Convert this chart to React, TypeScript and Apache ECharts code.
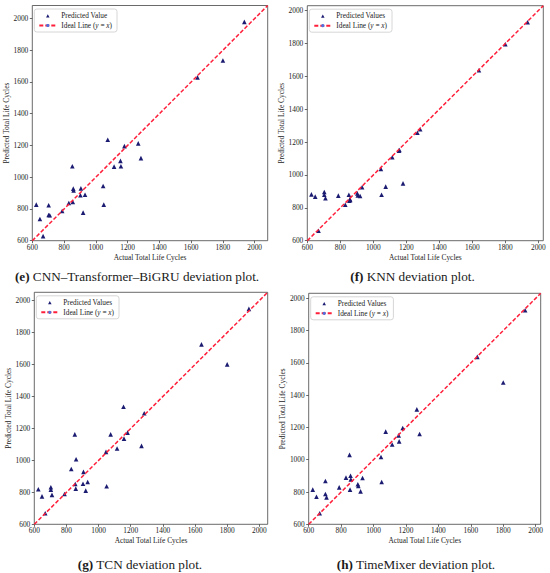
import React, { useEffect, useRef } from "react";
import * as echarts from "echarts";

const actualCycles = [625, 648, 668, 703, 703, 710, 788, 830, 852, 855, 858, 860, 903, 906, 920, 932, 1046, 1050, 1075, 1115, 1155, 1158, 1180, 1267, 1284, 1640, 1800, 1935];
const predCnnTransformerBiGru = [827, 737, 629, 823, 762, 760, 787, 838, 1069, 844, 928, 916, 886, 930, 777, 890, 945, 827, 1236, 1067, 1103, 1069, 1196, 1213, 1120, 1629, 1735, 1979];
const predKnn = [882, 868, 661, 896, 880, 858, 874, 819, 880, 844, 852, 848, 888, 876, 872, 925, 1036, 880, 929, 1108, 1148, 1152, 949, 1257, 1278, 1637, 1795, 1929];
const predTcn = [819, 775, 669, 832, 817, 784, 790, 946, 1163, 852, 823, 1007, 854, 928, 811, 865, 1053, 838, 1163, 1074, 1336, 1136, 1174, 1091, 1295, 1726, 1601, 1948];
const predTimeMixer = [815, 771, 668, 868, 788, 767, 829, 889, 1030, 815, 901, 878, 848, 838, 804, 887, 1017, 862, 1174, 1094, 1151, 1114, 1197, 1312, 1159, 1637, 1478, 1926];
const tickValues = [600, 800, 1000, 1200, 1400, 1600, 1800, 2000];
const axisMin = 600;
const axisMaxes = [2082, 2030, 2052, 2031];
const scatterNames = ["Predicted Value", "Predicted Values", "Predicted Values", "Predicted Values"];
const idealName = "Ideal Line (y = x)";
const captionLetters = ["e", "f", "g", "h"];
const captionTexts = ["CNN–Transformer–BiGRU deviation plot.", "KNN deviation plot.", "TCN deviation plot.", "TimeMixer deviation plot."];
const predictions = [predCnnTransformerBiGru, predKnn, predTcn, predTimeMixer];

const layout = [
  { left: 32.3, top: 5.5, width: 235.4, height: 235.2, yGap: 22, capX: 137, capY: 276 },
  { left: 307.3, top: 5.7, width: 236, height: 235, yGap: 21.8, capX: 412.5, capY: 276 },
  { left: 34.3, top: 292.3, width: 233.4, height: 232, yGap: 19.5, capX: 140, capY: 564 },
  { left: 308.7, top: 293.3, width: 232, height: 231, yGap: 21, capX: 416, capY: 564 },
];

const SERIF = "Liberation Serif";
const TXT = "#222";
const FRAME = "#444";
// legend marker: bounding box 34x8 (same aspect as the 17x4 legend item), small triangle in the middle
const TRIANGLE_ICON = "path://M0 0M34 8M13.5 8L17 1.5L20.5 8Z";

export default function App() {
  const ref = useRef<HTMLDivElement>(null);
  useEffect(() => {
    document.body.style.margin = "0";
    const chart = echarts.init(ref.current!, null, { renderer: "svg" });
    const grids: any[] = [];
    const xAxes: any[] = [];
    const yAxes: any[] = [];
    const series: any[] = [];
    const legends: any[] = [];
    const titles: any[] = [];
    const labelFmt = (v: number) => String(v);
    layout.forEach((L, i) => {
      const max = axisMaxes[i];
      grids.push({
        left: L.left, top: L.top, width: L.width, height: L.height,
        show: true, borderColor: FRAME, borderWidth: 0.8, backgroundColor: "#fff",
      });
      const common = {
        type: "value", gridIndex: i, min: axisMin, max, interval: 200,
        splitLine: { show: false },
        axisLine: { show: false, onZero: false },
        axisTick: { show: true, length: 2.5, customValues: tickValues, lineStyle: { color: FRAME, width: 0.8 } },
        nameLocation: "middle",
        nameTextStyle: { fontFamily: SERIF, fontSize: 7.4, color: TXT },
      };
      xAxes.push({
        ...common,
        name: "Actual Total Life Cycles", nameGap: 13,
        axisLabel: { customValues: tickValues, formatter: labelFmt, fontFamily: SERIF, fontSize: 7.4, color: TXT, margin: 3 },
      });
      yAxes.push({
        ...common,
        name: "Predicted Total Life Cycles", nameGap: L.yGap,
        axisLabel: { customValues: tickValues, formatter: labelFmt, fontFamily: SERIF, fontSize: 7.4, color: TXT, margin: 4 },
      });
      series.push({
        type: "scatter", name: scatterNames[i], xAxisIndex: i, yAxisIndex: i,
        data: actualCycles.map((x, j) => [x, predictions[i][j]]),
        symbol: "triangle", symbolSize: 4.6,
        itemStyle: { color: "#1b1b72", opacity: 1 },
        z: 2,
      });
      series.push({
        type: "line", name: idealName, xAxisIndex: i, yAxisIndex: i,
        data: [[axisMin, axisMin], [max, max]],
        symbol: "none",
        lineStyle: { color: "#ff1f3a", width: 1.5, type: [4, 2] },
        z: 3,
      });
      legends.push({
        data: [{ name: scatterNames[i], icon: TRIANGLE_ICON }, { name: idealName }],
        left: L.left + 2, top: L.top + 3.5,
        orient: "vertical", itemWidth: 17, itemHeight: 4, itemGap: 3,
        padding: [3, 5, 3, 4],
        backgroundColor: "#fff", borderColor: "#ccc", borderWidth: 0.8, borderRadius: 2.5,
        selectedMode: false,
        textStyle: {
          fontFamily: SERIF, fontSize: 7.3, color: TXT,
          rich: { i: { fontStyle: "italic", fontFamily: SERIF, fontSize: 7.3, color: TXT } },
        },
        formatter: (n: string) => (n === idealName ? "Ideal Line ({i|y} = {i|x})" : n),
      });
      titles.push({
        text: `{b|(${captionLetters[i]})}{n| ${captionTexts[i]}}`,
        left: L.capX, top: L.capY, textAlign: "center", textVerticalAlign: "middle",
        padding: 0,
        textStyle: {
          fontFamily: SERIF, fontSize: 13.2, fontWeight: "normal", color: "#1a1a1a",
          rich: {
            b: { fontWeight: "bold", fontFamily: SERIF, fontSize: 13.2, color: "#1a1a1a" },
            n: { fontWeight: "normal", fontFamily: SERIF, fontSize: 13.2, color: "#1a1a1a" },
          },
        },
      });
    });
    chart.setOption({
      animation: false,
      backgroundColor: "#fff",
      title: titles,
      grid: grids,
      xAxis: xAxes,
      yAxis: yAxes,
      legend: legends,
      series,
    });
    return () => chart.dispose();
  }, []);
  return <div ref={ref} style={{ position: "fixed", left: 0, top: 0, width: 550, height: 573 }} />;
}
